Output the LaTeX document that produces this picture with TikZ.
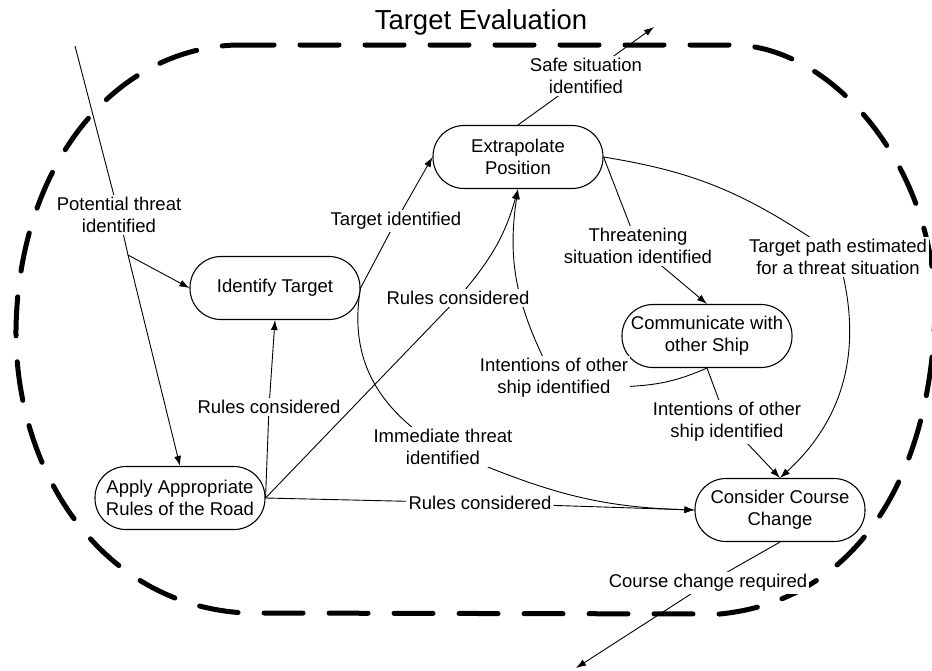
\documentclass[tikz,border=0pt]{standalone}
\usepackage{fontspec}
\setmainfont{Liberation Sans}
\usetikzlibrary{arrows.meta,backgrounds}

\begin{document}
\begin{tikzpicture}[x=1pt,y=-1pt,
    >={Latex[length=10pt,width=7pt]},
    every node/.style={font=\fontsize{18.5}{22}\selectfont},
    proc/.style={draw,line width=1.1pt,rounded corners=31pt,minimum width=170pt,minimum height=63pt,align=center,fill=white},
    lbl/.style={align=center,fill=white,inner sep=2pt}]
\useasboundingbox (0,0) rectangle (932,670);

\node[font=\fontsize{27.5}{33}\selectfont] (title) at (481,22) {Target Evaluation};

% process boxes
\node[proc] (ident) at (275,288) {Identify Target};
\node[proc] (extrap) at (518,157) {Extrapolate\\Position};
\node[proc] (apply) at (180,498) {Apply Appropriate\\Rules of the Road};
\node[proc] (comm) at (707,336) {Communicate with\\other Ship};
\node[proc] (course) at (780,510) {Consider Course\\Change};

% labels on the connectors
\node[lbl] (pot) at (119,215) {Potential threat\\identified};
\node[lbl] (rules1) at (269,407) {Rules considered};
\node[lbl] (tgtid) at (396,221) {Target identified};
\node[lbl] (rules2) at (458,298) {Rules considered};
\node[lbl] (immed) at (443,447) {Immediate threat\\identified};
\node[lbl] (safe) at (586,76) {Safe situation\\identified};
\node[lbl] (threat) at (638,246) {Threatening\\situation identified};
\node[lbl] (path) at (838,257) {Target path estimated\\for a threat situation};
\node[lbl] (int1) at (554,378) {Intentions of other\\ship identified};
\node[lbl] (int2) at (727,422) {Intentions of other\\ship identified};
\node[lbl] (rules3) at (480,503) {Rules considered};
\node[lbl] (chg) at (708,583) {Course change required};

\coordinate (potin) at (75,46);
\coordinate (fork) at (128,255);
\coordinate (safeout) at (654,27);
\coordinate (chgout) at (576,668);

\begin{scope}[on background layer]
% dashed border
\draw[line width=5pt,line cap=round,dash pattern=on 39pt off 26pt]
    (235,45) -- (735,45) .. controls (830,47) and (930,160) .. (935,300)
    .. controls (935,470) and (860,600) .. (720,614) -- (245,613)
    .. controls (100,605) and (15,470) .. (16,330)
    .. controls (18,170) and (110,50) .. (235,45) -- cycle;

\begin{scope}[line width=0.9pt]
\foreach \a/\b in {potin/pot, pot/fork, apply.east/rules1, ident.east/tgtid,
    apply.east/rules2, extrap.north/safe, extrap.east/threat, comm.south/int2,
    apply.east/rules3, course.south/chg}
    \draw (\a) -- (\b);
\foreach \a/\b in {fork/apply.north, fork/ident.west, rules1/ident.south,
    tgtid/extrap.west, safe/safeout, threat/comm.north, int2/course.north,
    rules3/course.west, chg/chgout}
    \draw[->] (\a) -- (\b);
\draw (ident.east) to[bend right=30] (immed);
\draw[->] (immed) to[bend right=10] (course.west);
\draw[->] (rules2) to[bend right=12] (extrap.south);
\draw (extrap.east) to[bend left=12] (path);
\draw[->] (path) to[bend left=30] (course.north);
\draw (comm.south) to[bend left=10] (int1);
\draw[->] (int1) to[bend left=17] (extrap.south);
\end{scope}
\end{scope}
\end{tikzpicture}
\end{document}
